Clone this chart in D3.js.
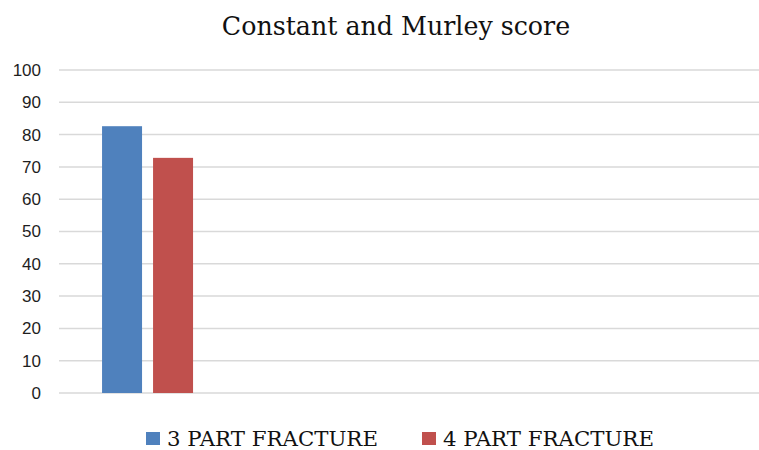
<!DOCTYPE html>
<meta charset="utf-8">
<head>
  <style>
  body { margin: 0; background: #fff; }
  .grid line { stroke: #d9d9d9; stroke-width: 1.5px; }
  .yaxis text { font-family: "Liberation Sans", sans-serif; font-size: 17px; fill: #1e1e1e; }
  .title { font-family: "DejaVu Serif", serif; font-size: 25.3px; fill: #111; }
  .legend text { font-family: "DejaVu Serif", serif; font-size: 21.3px; fill: #111; }
  </style>
</head>
<body>
<svg width="759" height="450"></svg>
<script src="https://d3js.org/d3.v7.min.js"></script>
<script>

// data
var categories = ["Constant and Murley score", "c2", "c3", "c4"];
var series = ["3 PART FRACTURE", "4 PART FRACTURE"];
var part3 = [82.6, null, null, null];
var part4 = [72.8, null, null, null];
var yTicks = [0, 10, 20, 30, 40, 50, 60, 70, 80, 90, 100];
var colors = ["#4f81bd", "#c0504d"];

var svg = d3.select("svg"),
    width = +svg.attr("width"),
    height = +svg.attr("height");

var plotLeft = 59, plotRight = 759, plotTop = 70, plotBottom = 393;

var y = d3.scaleLinear().domain([0, 100]).range([plotBottom, plotTop]);

var x0 = d3.scaleBand().domain(categories).range([plotLeft, plotRight]);
var bw = x0.bandwidth();
var x1 = d3.scaleBand().domain(series)
    .range([bw * 0.246, bw * 0.766])
    .paddingInner(11 / 51);

var color = d3.scaleOrdinal().domain(series).range(colors);

// gridlines
svg.append("g")
    .attr("class", "grid")
  .selectAll("line")
  .data(yTicks)
  .enter().append("line")
    .attr("x1", plotLeft)
    .attr("x2", plotRight)
    .attr("y1", function(d) { return y(d); })
    .attr("y2", function(d) { return y(d); });

// y axis labels
var yAxis = d3.axisLeft(y).tickValues(yTicks).tickSize(0).tickPadding(0);
var gy = svg.append("g")
    .attr("class", "yaxis")
    .attr("transform", "translate(41,0)")
    .call(yAxis);
gy.select(".domain").remove();
gy.attr("font-family", null).attr("font-size", null);

// bars
var rows = categories.map(function(c, i) {
  return { cat: c, vals: [part3[i], part4[i]] };
});

var groups = svg.append("g").selectAll("g")
  .data(rows)
  .enter().append("g")
    .attr("transform", function(d) { return "translate(" + x0(d.cat) + ",0)"; });

groups.selectAll("rect")
  .data(function(d) {
    return series.map(function(s, j) { return { key: s, value: d.vals[j] }; })
      .filter(function(e) { return e.value != null; });
  })
  .enter().append("rect")
    .attr("x", function(d) { return x1(d.key); })
    .attr("width", x1.bandwidth())
    .attr("y", function(d) { return y(d.value); })
    .attr("height", function(d) { return y(0) - y(d.value); })
    .attr("fill", function(d) { return color(d.key); });

// title
svg.append("text")
    .attr("class", "title")
    .attr("x", 396)
    .attr("y", 35)
    .attr("text-anchor", "middle")
    .text("Constant and Murley score");

// legend
var legendX = [146, 422];
var legend = svg.append("g")
    .attr("class", "legend")
  .selectAll("g")
  .data(series)
  .enter().append("g")
    .attr("transform", function(d, i) { return "translate(" + legendX[i] + ",432)"; });

legend.append("rect")
    .attr("width", 14)
    .attr("height", 13)
    .attr("fill", function(d) { return color(d); });

legend.append("text")
    .attr("x", 21)
    .attr("y", 14)
    .text(function(d) { return d; });

</script>
</body>
